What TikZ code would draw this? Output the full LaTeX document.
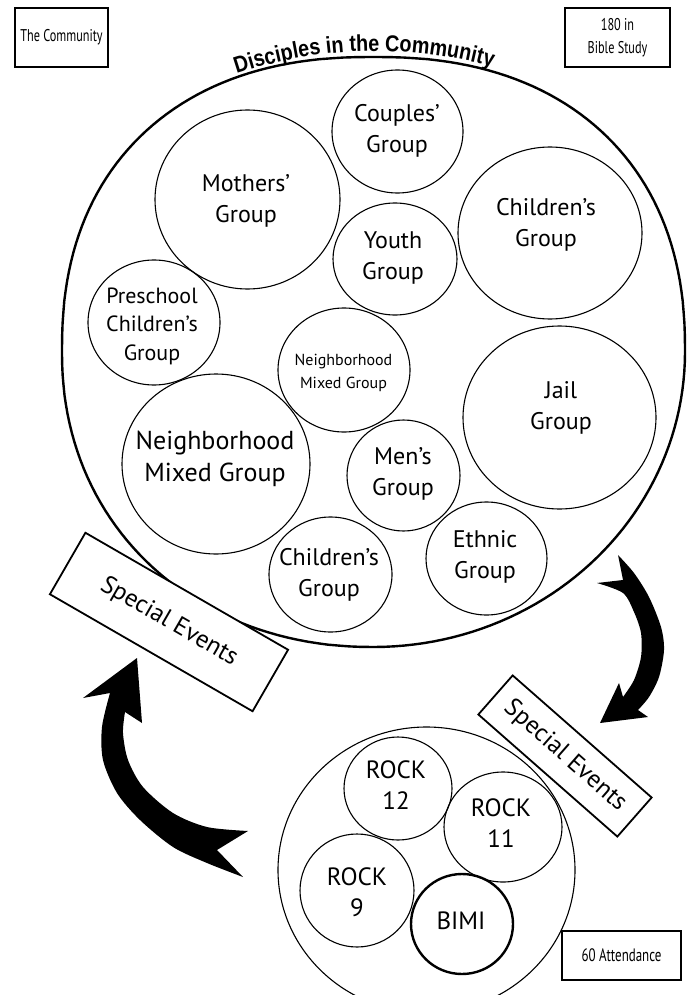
\documentclass[tikz,border=0pt]{standalone}
\usepackage{fontspec}
\setmainfont{PT Sans}
\newfontfamily\condfont[FakeStretch=0.72]{PT Sans}
\newfontfamily\titlefont[FakeStretch=0.86]{Liberation Sans}
\usetikzlibrary{shapes.geometric,decorations.text}
\begin{document}
\begin{tikzpicture}[x=1pt,y=1pt,
  grp/.style={ellipse, draw, line width=1.1pt, inner sep=0pt},
  lbl/.style={align=center, inner sep=0pt, font=\fontsize{24}{31}\selectfont},
  smallbox/.style={draw, line width=1.6pt, inner sep=0pt, align=center},
  evbox/.style={draw, fill=white, line width=1.8pt, inner sep=0pt, font=\fontsize{25}{30}\selectfont},
  bigarrow/.style={fill=black}]
\clip (0,0) rectangle (686,-995);
\fill[white] (0,0) rectangle (686,-995);

% corner boxes
\node[smallbox, minimum width=93, minimum height=59, font=\condfont\fontsize{17}{20}\selectfont] (community) at (61.5,-37.5) {The Community};
\node[smallbox, minimum width=105, minimum height=59, font=\condfont\fontsize{17}{23}\selectfont] (bible) at (617.5,-37.5) {180 in\\Bible Study};
\node[smallbox, line width=2.4pt, minimum width=119, minimum height=49, font=\condfont\fontsize{18}{20}\selectfont] (attend) at (621.5,-955.5) {60 Attendance};

% big community circle
\draw[line width=2.4pt]
  plot[domain=0.2:89.8, samples=50, variable=\t] ({373.5+311.5*cos(\t)^0.87},{-352+295*sin(\t)^0.87})
  -- plot[domain=90.2:179.8, samples=50, variable=\t] ({373.5-311.5*(-cos(\t))^0.87},{-352+295*sin(\t)^0.87})
  -- plot[domain=180.2:269.8, samples=50, variable=\t] ({373.5-311.5*(-cos(\t))^0.95},{-352-295*(-sin(\t))^0.95})
  -- plot[domain=270.2:359.8, samples=50, variable=\t] ({373.5+311.5*cos(\t)},{-352+295*sin(\t)})
  -- cycle;

% title along arc
\path[postaction={decorate}, decoration={text along path, text align=center,
  text={|\titlefont\bfseries\fontsize{23}{23}\selectfont|Disciples in the Community}}]
  (376,-486) ++(129.6:435) arc[start angle=129.6, end angle=53.6, radius=435];

% groups
\node[grp, minimum width=131, minimum height=123] (couples) at (397.5,-131.5) {};
\node[lbl] (couplesT) at (397,-131) {Couples'\\Group};
\node[grp, minimum width=185, minimum height=179] (mothers) at (247.5,-199.5) {};
\node[lbl] (mothersT) at (246,-201) {Mothers'\\Group};
\node[grp, minimum width=184, minimum height=172] (childtop) at (550,-233) {};
\node[lbl] (childtopT) at (546,-225) {Children's\\Group};
\node[grp, minimum width=124, minimum height=112] (youth) at (395,-259) {};
\node[lbl] (youthT) at (393,-258) {Youth\\Group};
\node[grp, minimum width=132, minimum height=125] (preschool) at (154,-322.5) {};
\node[lbl, font=\fontsize{22}{28.5}\selectfont] (preschoolT) at (152,-326) {Preschool\\Children's\\Group};
\node[grp, minimum width=132, minimum height=124] (neighsmall) at (344,-370) {};
\node[lbl, font=\fontsize{16}{23}\selectfont] (neighsmallT) at (343.5,-372.5) {Neighborhood\\Mixed Group};
\node[grp, minimum width=188, minimum height=180] (neighbig) at (216,-464) {};
\node[lbl, font=\fontsize{26}{32}\selectfont] (neighbigT) at (215,-459) {Neighborhood\\Mixed Group};
\node[grp, minimum width=193, minimum height=183] (jail) at (559.5,-417.5) {};
\node[lbl] (jailT) at (561,-407.5) {Jail\\Group};
\node[grp, minimum width=113, minimum height=111] (mens) at (403.5,-475.5) {};
\node[lbl] (mensT) at (403,-473.5) {Men's\\Group};
\node[grp, minimum width=121, minimum height=113] (ethnic) at (486.5,-558.5) {};
\node[lbl] (ethnicT) at (485,-556.5) {Ethnic\\Group};
\node[grp, minimum width=123, minimum height=115] (childbot) at (330.5,-574.5) {};
\node[lbl] (childbotT) at (329,-575) {Children's\\Group};

% special events boxes
\node[evbox, rotate=-30, minimum width=234, minimum height=71] (eventsL) at (169,-622) {Special Events};
\node[evbox, rotate=-41.3, minimum width=185, minimum height=52] (eventsR) at (565,-756) {Special Events};

% lower circle with ROCK groups
\node[grp, minimum width=297, minimum height=286] (rocks) at (426.5,-870) {};
\node[grp, minimum width=108, minimum height=103] (rock12) at (398,-788.5) {};
\node[lbl, font=\fontsize{25}{31}\selectfont] (rock12T) at (396,-785) {ROCK\\12};
\node[grp, minimum width=118, minimum height=110] (rock11) at (503,-827) {};
\node[lbl, font=\fontsize{25}{31}\selectfont] (rock11T) at (501,-823) {ROCK\\11};
\node[grp, minimum width=114, minimum height=113] (rock9) at (357,-890.5) {};
\node[lbl, font=\fontsize{25}{31}\selectfont] (rock9T) at (357,-892) {ROCK\\9};
\node[grp, line width=2.4pt, minimum width=102, minimum height=100] (bimi) at (462,-924) {};
\node[lbl, font=\fontsize{25}{31}\selectfont] (bimiT) at (461,-921) {BIMI};

% left curved arrow (up toward the community)
\fill[bigarrow] (137,-658) -- (83,-698) -- (110,-693)
  -- plot[smooth] coordinates {(110,-693) (102,-727) (103,-760) (117,-793) (140,-820) (173,-847) (207,-863) (243,-877)}
  -- (217,-850) -- (248,-831)
  -- plot[smooth] coordinates {(248,-831) (207,-827) (173,-813) (143,-787) (128,-760) (123,-733) (125,-712)}
  -- (142,-723) -- cycle;

% right curved arrow (down toward the ROCK circle)
\fill[bigarrow] (618,-555)
  -- plot[smooth] coordinates {(618,-555) (634,-573) (649,-597) (661,-627) (664,-650) (659,-677) (649,-697) (638,-710)}
  -- (648,-717) -- (600,-723) -- (619,-683) -- (623,-697)
  -- plot[smooth] coordinates {(623,-697) (634,-680) (641,-657) (641,-633) (634,-612) (623,-593) (597,-583)}
  -- (623,-580) -- cycle;
\end{tikzpicture}
\end{document}
